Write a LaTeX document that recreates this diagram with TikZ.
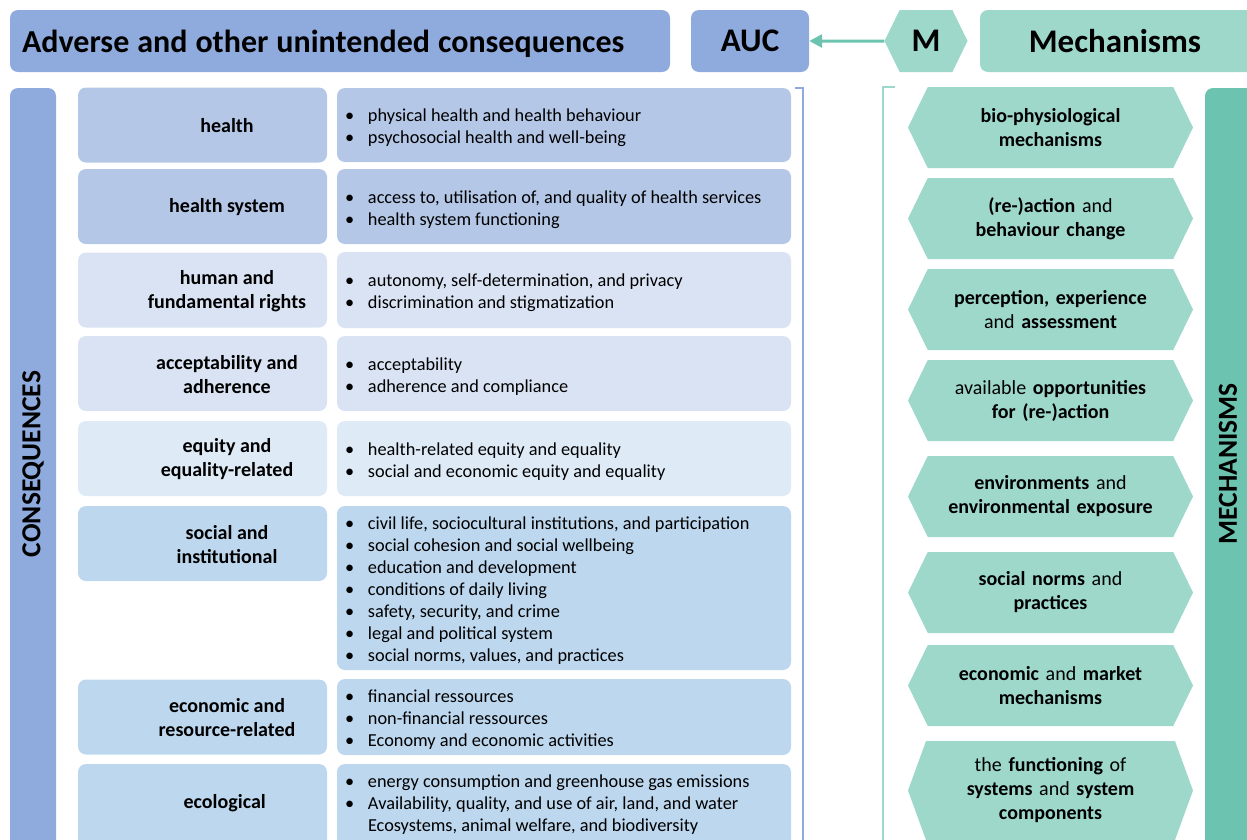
\documentclass[tikz,border=0pt]{standalone}
\usepackage{fontspec}
\setmainfont{Carlito}
\usetikzlibrary{arrows.meta,shapes.symbols}

\definecolor{aucblue}{HTML}{8FAADC}
\definecolor{rowA}{HTML}{B4C7E7}
\definecolor{rowB}{HTML}{DAE3F3}
\definecolor{rowC}{HTML}{DEEBF7}
\definecolor{rowD}{HTML}{BDD7EE}
\definecolor{mechlight}{HTML}{9DD8CB}
\definecolor{mechdark}{HTML}{6CC4B0}

\newcommand{\itm}[1]{\makebox[23pt][l]{\textbullet}#1}

\tikzset{
    box/.style={rounded corners=8pt, inner sep=0pt},
    hdrbox/.style={box, minimum height=62pt, font=\fontsize{33}{38}\selectfont\bfseries},
    catbox/.style={box, minimum width=249pt, minimum height=75pt},
    catlabel/.style={align=center, inner sep=0pt, font=\fontsize{20}{24}\selectfont\bfseries},
    itembox/.style={box, minimum width=454pt},
    itemtext/.style={anchor=west, align=left, inner sep=0pt, font=\fontsize{18.3}{22}\selectfont},
    hexbox/.style={shape=signal, signal to=west and east, signal pointer angle=128, fill=mechlight, inner sep=0pt},
    mechbox/.style={hexbox, minimum width=285pt, minimum height=81pt, text width=230pt, align=center, font=\fontsize{20}{24}\selectfont},
    sidelabel/.style={rotate=90, inner sep=0pt, font=\fontsize{27.5}{30}\selectfont\bfseries},
}

\begin{document}
\begin{tikzpicture}[x=1pt,y=-1pt]
    \clip (0,0) rectangle (1247,839);

    % header row
    \node[hdrbox, fill=aucblue, minimum width=660pt, text width=636pt, text depth=0pt, align=left, font=\fontsize{32}{38}\selectfont\bfseries] (title) at (340,41) {\spaceskip=8pt\relax Adverse and other unintended consequences};
    \node[hdrbox, fill=aucblue, minimum width=118pt] (auc) at (750,41) {AUC};
    \node[hexbox, minimum width=83pt, minimum height=62pt, font=\fontsize{33}{38}\selectfont\bfseries] (m) at (926,41) {M};
    \node[hdrbox, fill=mechlight, minimum width=290pt] (mechtitle) at (1125,41) {Mechanisms\hspace*{20pt}};
    \draw[-{Triangle[length=13pt,width=13pt]}, mechdark, line width=3pt] (m) -- (auc);

    % side bars (running off the bottom edge)
    \fill[aucblue, rounded corners=8pt] (10,88) rectangle (56,870);
    \node[sidelabel] (conseq) at (33,464) {CONSEQUENCES};
    \fill[mechdark, rounded corners=8pt] (1205,88) rectangle (1275,870);
    \node[sidelabel] (mechbar) at (1228,464) {MECHANISMS};

    % brackets
    \draw[aucblue, line width=2.5pt] (795,88) -- (803,88) -- (803,845);
    \draw[mechlight, line width=2.5pt] (895,87) -- (883,87) -- (883,845);

    % consequence categories
    \node[catbox, fill=rowA] (cat-health) at (202.5,125) {};
    \node[catbox, fill=rowA] (cat-hsys) at (202.5,206.5) {};
    \node[catbox, fill=rowB] (cat-rights) at (202.5,290) {};
    \node[catbox, fill=rowB] (cat-accept) at (202.5,373.5) {};
    \node[catbox, fill=rowC] (cat-equity) at (202.5,458.5) {};
    \node[catbox, fill=rowD] (cat-social) at (202.5,543.5) {};
    \node[catbox, fill=rowD] (cat-econ) at (202.5,717) {};
    \node[catbox, fill=rowD, minimum height=90pt] (cat-eco) at (202.5,809) {};

    \foreach \name/\dy/\lab in {
        health/-1/{health},
        hsys/-1/{health system},
        rights/-1/{human and\\fundamental rights},
        accept/-1/{acceptability and\\adherence},
        equity/-1/{equity and\\equality-related},
        social/-1/{social and\\institutional},
        econ/-1/{economic and\\resource-related},
        eco/6/{ecological}
    } {
        \node[catlabel] (lab-\name) at ([xshift=24.5pt,yshift=\dy pt]cat-\name.center) {\lab};
    }

    % boxes holding the items
    \node[itembox, fill=rowA, minimum height=74pt] (box-health) at (564,125) {};
    \node[itembox, fill=rowA, minimum height=75pt] (box-hsys) at (564,206.5) {};
    \node[itembox, fill=rowB, minimum height=76pt] (box-rights) at (564,290) {};
    \node[itembox, fill=rowB, minimum height=75pt] (box-accept) at (564,373.5) {};
    \node[itembox, fill=rowC, minimum height=75pt] (box-equity) at (564,458.5) {};
    \node[itembox, fill=rowD, minimum height=164pt] (box-social) at (564,588) {};
    \node[itembox, fill=rowD, minimum height=76pt] (box-econ) at (564,717) {};
    \node[itembox, fill=rowD, minimum height=90pt] (box-eco) at (564,809) {};

    % items
    \node[itemtext] (txt-health) at ([xshift=8pt,yshift=-3pt]box-health.west) {\itm{physical health and health behaviour}\\\itm{psychosocial health and well-being}};
    \node[itemtext] (txt-hsys) at ([xshift=8pt,yshift=-3pt]box-hsys.west) {\itm{access to, utilisation of, and quality of health services}\\\itm{health system functioning}};
    \node[itemtext] (txt-rights) at ([xshift=8pt,yshift=-3pt]box-rights.west) {\itm{autonomy, self-determination, and privacy}\\\itm{discrimination and stigmatization}};
    \node[itemtext] (txt-accept) at ([xshift=8pt,yshift=-3pt]box-accept.west) {\itm{acceptability}\\\itm{adherence and compliance}};
    \node[itemtext] (txt-equity) at ([xshift=8pt,yshift=-3pt]box-equity.west) {\itm{health-related equity and equality}\\\itm{social and economic equity and equality}};
    \node[itemtext] (txt-social) at ([xshift=8pt,yshift=-3pt]box-social.west) {\itm{civil life, sociocultural institutions, and participation}\\\itm{social cohesion and social wellbeing}\\\itm{education and development}\\\itm{conditions of daily living}\\\itm{safety, security, and crime}\\\itm{legal and political system}\\\itm{social norms, values, and practices}};
    \node[itemtext] (txt-econ) at ([xshift=8pt,yshift=-3pt]box-econ.west) {\itm{financial ressources}\\\itm{non-financial ressources}\\\itm{Economy and economic activities}};
    \node[itemtext] (txt-eco) at ([xshift=8pt,yshift=4pt]box-eco.west) {\itm{energy consumption and greenhouse gas emissions}\\\itm{Availability, quality, and use of air, land, and water}\\\hspace*{23pt}Ecosystems, animal welfare, and biodiversity};

    % mechanisms
    \foreach \name/\ytop/\hgt/\ang/\lab in {
        bio/87/81/128/{\textbf{bio-physiological}\\\textbf{mechanisms}},
        react/178/81/128/{\textbf{(re-)action} and\\\textbf{behaviour change}},
        percep/269/81/128/{\textbf{perception, experience}\\and \textbf{assessment}},
        oppor/360/81/128/{available \textbf{opportunities}\\\textbf{for (re-)action}},
        envir/456/81/128/{\textbf{environments} and\\\textbf{environmental exposure}},
        norms/552/81/128/{\textbf{social norms} and\\\textbf{practices}},
        market/645/81/128/{\textbf{economic} and \textbf{market}\\\textbf{mechanisms}},
        system/741/99/140/{the \textbf{functioning} of\\\textbf{systems} and \textbf{system}\\\textbf{components}}
    } {
        \node[mechbox, minimum height=\hgt, signal pointer angle=\ang] (mech-\name) at (1050.5,\ytop+\hgt/2) {\lab};
    }
\end{tikzpicture}
\end{document}
